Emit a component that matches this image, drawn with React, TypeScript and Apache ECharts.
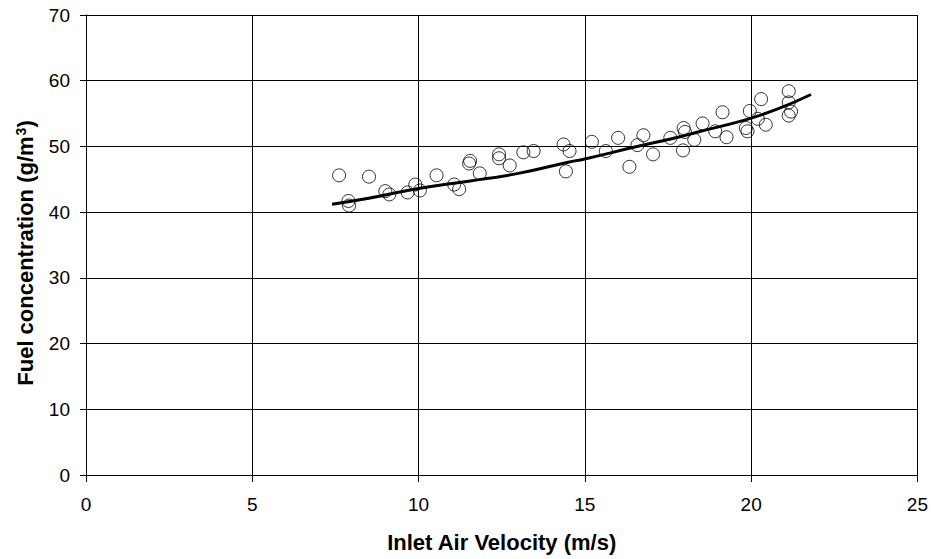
import React, { useEffect, useRef } from "react";
import * as echarts from "echarts";

const velocity = [7.61, 8.51, 7.89, 7.91, 9.0, 9.12, 9.67, 9.9, 10.04, 10.54, 11.07, 11.22, 11.52, 11.55, 11.84, 12.42, 12.42, 12.74, 13.15, 13.46, 14.36, 14.54, 14.43, 15.21, 15.63, 16.0, 16.34, 16.58, 16.76, 17.05, 17.57, 17.95, 17.97, 18.01, 18.29, 18.54, 18.92, 19.14, 19.26, 19.84, 19.89, 19.96, 20.2, 20.3, 20.44, 21.13, 21.13, 21.2, 21.13];
const concentration = [45.6, 45.4, 41.7, 41.0, 43.2, 42.7, 43.0, 44.2, 43.3, 45.6, 44.2, 43.5, 47.4, 47.8, 45.9, 48.8, 48.2, 47.1, 49.1, 49.3, 50.3, 49.3, 46.2, 50.7, 49.3, 51.3, 46.9, 50.2, 51.7, 48.8, 51.3, 49.4, 52.8, 52.2, 51.0, 53.5, 52.3, 55.2, 51.4, 52.8, 52.3, 55.4, 54.2, 57.2, 53.3, 58.4, 56.7, 55.3, 54.7];

const trendX = [7.4, 8.5, 10, 11.5, 13, 14.5, 15, 16.5, 17.8, 18.4, 19.8, 20.8, 21.8];
const trendY = [41.2, 42.1, 43.6, 44.7, 45.9, 47.6, 48.1, 49.9, 51.4, 52.2, 54.0, 55.7, 57.9];

const xTicks = [0, 5, 10, 15, 20, 25];
const yTicks = [0, 10, 20, 30, 40, 50, 60, 70];

export default function App() {
  const ref = useRef<HTMLDivElement>(null);
  useEffect(() => {
    if (!ref.current) return;
    const chart = echarts.init(ref.current, null, { renderer: "svg" });
    const font = "'Liberation Sans', Arial, sans-serif";
    chart.setOption({
      animation: false,
      backgroundColor: "#fff",
      grid: { left: 86, right: 13, top: 15, bottom: 84 },
      xAxis: {
        type: "value",
        min: xTicks[0],
        max: xTicks[xTicks.length - 1],
        interval: 5,
        name: "Inlet Air Velocity (m/s)",
        nameLocation: "middle",
        nameGap: 56,
        nameTextStyle: { fontFamily: font, fontSize: 22, fontWeight: "bold", color: "#000" },
        axisLine: { lineStyle: { color: "#000", width: 1 } },
        axisTick: { show: true, length: 7, lineStyle: { color: "#000" } },
        axisLabel: { fontFamily: font, fontSize: 19, color: "#000", margin: 20 },
        splitLine: { show: true, lineStyle: { color: "#000", width: 1 } },
      },
      yAxis: {
        type: "value",
        min: yTicks[0],
        max: yTicks[yTicks.length - 1],
        interval: 10,
        name: "{a|Fuel concentration (g/m}{s|3}{a|)}",
        nameLocation: "middle",
        nameGap: 50,
        nameTextStyle: {
          fontFamily: font,
          fontSize: 22,
          fontWeight: "bold",
          color: "#000",
          padding: [0, 16, 0, 0],
          rich: {
            a: { fontFamily: font, fontSize: 22, fontWeight: "bold", color: "#000", verticalAlign: "bottom" },
            s: { fontFamily: font, fontSize: 14, fontWeight: "bold", color: "#000", verticalAlign: "top", padding: [0, 0, 0, 1] },
          },
        },
        axisLine: { show: true, lineStyle: { color: "#000", width: 1 } },
        axisTick: { show: true, length: 6, lineStyle: { color: "#000" } },
        axisLabel: { fontFamily: font, fontSize: 19, color: "#000", margin: 16 },
        splitLine: { show: true, lineStyle: { color: "#000", width: 1 } },
      },
      series: [
        {
          type: "scatter",
          data: velocity.map((v, i) => [v, concentration[i]]),
          symbol: "circle",
          symbolSize: 13,
          itemStyle: { color: "rgba(255,255,255,0)", borderColor: "#000", borderWidth: 1 },
          z: 2,
        },
        {
          type: "line",
          data: trendX.map((v, i) => [v, trendY[i]]),
          smooth: true,
          showSymbol: false,
          lineStyle: { color: "#000", width: 3 },
          z: 3,
        },
      ],
    });
    return () => chart.dispose();
  }, []);
  return <div ref={ref} style={{ width: 931, height: 559, position: "absolute", left: 0, top: 0 }} />;
}
